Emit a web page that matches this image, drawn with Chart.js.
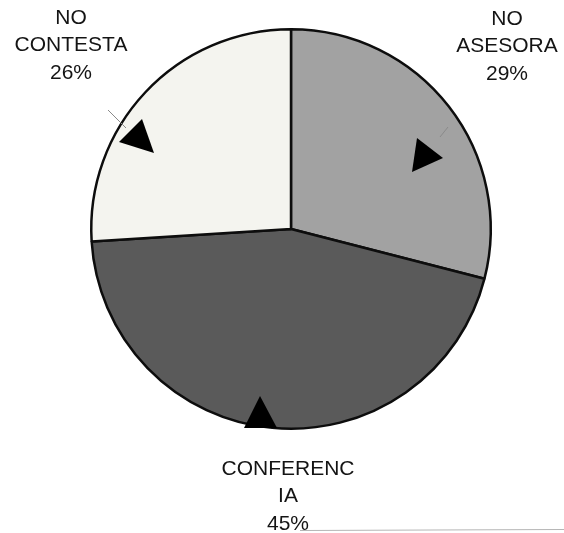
<!DOCTYPE html>
<html>
<head>
<meta charset="utf-8">
<script src="https://cdn.jsdelivr.net/npm/chart.js@4/dist/chart.umd.min.js"></script>
<style>
  html, body { margin: 0; padding: 0; background: #fff; }
  canvas { display: block; }
</style>
</head>
<body>
<canvas id="pie" width="564" height="533"></canvas>
<script>
/* pie: share of answers */

const CATEGORIES = ['NO ASESORA', 'CONFERENCIA', 'NO CONTESTA'];
const LABEL_LINES = [['NO', 'ASESORA'], ['CONFERENC', 'IA'], ['NO', 'CONTESTA']];
const VALUES = [29, 45, 26];
const COLORS = ['#a2a2a2', '#5a5a5a', '#f4f4ef'];

// label block centres (x, first-line y) and leader arrowheads
const LABEL_POS = [[507, 19], [288, 469], [71, 18]];
const ARROWS = [
  { line: [[448, 127], [440, 137]], tri: [[417, 138], [443, 158], [412, 172]] },
  { line: null, tri: [[260, 396], [244, 428], [277, 428]] },
  { line: [[108, 110], [126, 128]], tri: [[142, 119], [119, 142], [154, 153]] },
];

const labelPlugin = {
  id: 'labels',
  afterDraw(chart) {
    const ctx = chart.ctx;
    ctx.save();
    ARROWS.forEach((a) => {
      if (a.line) {
        ctx.strokeStyle = '#8a8a8a';
        ctx.lineWidth = 1;
        ctx.beginPath();
        ctx.moveTo(a.line[0][0], a.line[0][1]);
        ctx.lineTo(a.line[1][0], a.line[1][1]);
        ctx.stroke();
      }
      ctx.fillStyle = '#000';
      ctx.beginPath();
      ctx.moveTo(a.tri[0][0], a.tri[0][1]);
      ctx.lineTo(a.tri[1][0], a.tri[1][1]);
      ctx.lineTo(a.tri[2][0], a.tri[2][1]);
      ctx.closePath();
      ctx.fill();
    });

    ctx.font = '21px "Liberation Sans", Arial, sans-serif';
    ctx.fillStyle = '#141414';
    ctx.textAlign = 'center';
    ctx.textBaseline = 'middle';
    const total = VALUES.reduce((s, v) => s + v, 0);
    LABEL_LINES.forEach((lines, i) => {
      const [x, y] = LABEL_POS[i];
      const rows = lines.concat([Math.round(VALUES[i] / total * 100) + '%']);
      rows.forEach((t, j) => ctx.fillText(t, x, y + j * 27.5));
    });

    // faint scan edge at the bottom
    ctx.strokeStyle = '#b5b5b5';
    ctx.lineWidth = 1;
    ctx.beginPath();
    ctx.moveTo(300, 530.5);
    ctx.lineTo(564, 529.5);
    ctx.stroke();
    ctx.restore();
  },
};

new Chart(document.getElementById('pie'), {
  type: 'pie',
  data: {
    labels: CATEGORIES,
    datasets: [{ data: VALUES, backgroundColor: COLORS, borderColor: '#0d0d0d', borderWidth: 2.5, borderAlign: 'center' }],
  },
  options: {
    responsive: false,
    animation: false,
    rotation: 0,
    layout: { padding: { left: 90, right: 72, top: 28, bottom: 103 } },
    plugins: { legend: { display: false }, tooltip: { enabled: false } },
  },
  plugins: [labelPlugin],
});
</script>
</body>
</html>
